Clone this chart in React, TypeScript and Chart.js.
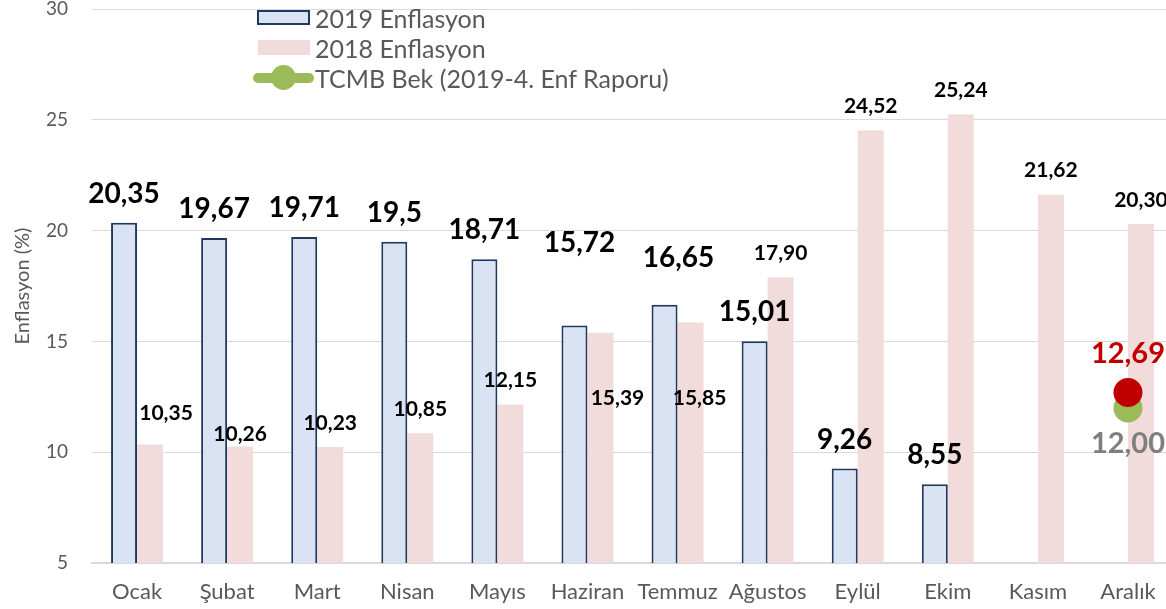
import React, { useEffect, useRef } from "react";
import { Chart, registerables } from "chart.js";

Chart.register(...registerables);

const months = ["Ocak", "Şubat", "Mart", "Nisan", "Mayıs", "Haziran", "Temmuz", "Ağustos", "Eylül", "Ekim", "Kasım", "Aralık"];
const infl2019: (number | null)[] = [20.35, 19.67, 19.71, 19.5, 18.71, 15.72, 16.65, 15.01, 9.26, 8.55, null, null];
const infl2018: (number | null)[] = [10.35, 10.26, 10.23, 10.85, 12.15, 15.39, 15.85, 17.9, 24.52, 25.24, 21.62, 20.3];
const tcmbForecast: (number | null)[] = [null, null, null, null, null, null, null, null, null, null, null, 12.0];
const decEstimate: (number | null)[] = [null, null, null, null, null, null, null, null, null, null, null, 12.69];
const yMin = 5;
const yMax = 30;
const yStep = 5;

const COL_2019_FILL = "#dae3f3";
const COL_2019_BORDER = "#22395e";
const COL_2018_FILL = "#f2dcdb";
const COL_GREEN = "#9bbb59";
const COL_RED = "#c00000";
const COL_TEXT = "#595959";
const FONT = "Lato";

const fmtPlain = (v: number) => String(v).replace(".", ",");
const fmtFixed = (v: number) => v.toFixed(2).replace(".", ",");

// value-label styles per dataset index (size, colour, default offset to text centre, format, per-index shifts)
const labelStyles: Record<number, { size: number; color: string; dy: number; fmt: (v: number) => string; shift: Record<number, [number, number]> }> = {
  0: { size: 29, color: COL_RED, dy: -40, fmt: fmtFixed, shift: {} },
  1: { size: 29, color: "#7f7f7f", dy: 35, fmt: fmtFixed, shift: {} },
  2: { size: 28, color: "#000000", dy: -30, fmt: fmtPlain, shift: { 5: [5, -84], 6: [14, -48] } },
  3: { size: 21, color: "#000000", dy: -25, fmt: fmtFixed, shift: { 0: [16, -32], 1: [0, -13], 5: [17, 65], 6: [9, 75] } },
};

const valueLabels = {
  id: "valueLabels",
  afterDatasetsDraw(chart: any) {
    const ctx = chart.ctx;
    chart.data.datasets.forEach((ds: any, di: number) => {
      const st = labelStyles[di];
      if (!st) return;
      const meta = chart.getDatasetMeta(di);
      meta.data.forEach((el: any, i: number) => {
        const v = ds.data[i];
        if (v == null) return;
        const sh = st.shift[i] ?? [0, st.dy];
        ctx.save();
        ctx.font = `bold ${st.size}px ${FONT}`;
        ctx.fillStyle = st.color;
        ctx.textAlign = "center";
        ctx.textBaseline = "alphabetic";
        ctx.fillText(st.fmt(v), el.x + sh[0], el.y + sh[1] + st.size * 0.36);
        ctx.restore();
      });
    });
  },
};

export default function App() {
  const ref = useRef<HTMLCanvasElement | null>(null);

  useEffect(() => {
    if (!ref.current) return;
    const chart = new Chart(ref.current, {
      type: "bar",
      data: {
        labels: months,
        datasets: [
          {
            type: "line",
            label: "Aralık Tahmini",
            data: decEstimate,
            showLine: false,
            pointRadius: 14.5,
            pointBackgroundColor: COL_RED,
            pointBorderWidth: 0,
            borderColor: COL_RED,
            order: 0,
          } as any,
          {
            type: "line",
            label: "TCMB Bek (2019-4. Enf Raporu)",
            data: tcmbForecast,
            showLine: false,
            pointRadius: 14.5,
            pointBackgroundColor: COL_GREEN,
            pointBorderWidth: 0,
            borderColor: COL_GREEN,
            order: 1,
          } as any,
          {
            label: "2019 Enflasyon",
            data: infl2019,
            backgroundColor: COL_2019_FILL,
            borderColor: COL_2019_BORDER,
            borderWidth: 2,
            categoryPercentage: 0.577,
            barPercentage: 1,
            order: 2,
          },
          {
            label: "2018 Enflasyon",
            data: infl2018,
            backgroundColor: COL_2018_FILL,
            borderWidth: 0,
            categoryPercentage: 0.577,
            barPercentage: 1,
            order: 3,
          },
        ],
      },
      options: {
        animation: false,
        responsive: false,
        maintainAspectRatio: false,
        layout: { autoPadding: false, padding: { top: 9, right: 7, left: 0, bottom: 0 } },
        plugins: {
          legend: { display: false },
          tooltip: { enabled: false },
        },
        scales: {
          x: {
            grid: { display: false, drawTicks: false },
            border: { display: true, color: "#d9d9d9", width: 2 },
            ticks: { color: COL_TEXT, font: { family: FONT, size: 22 }, padding: 16, maxRotation: 0, autoSkip: false },
            afterFit(scale: any) {
              scale.height = 46;
              scale.paddingLeft = 0;
              scale.paddingRight = 0;
            },
          },
          y: {
            min: yMin,
            max: yMax,
            ticks: { stepSize: yStep, color: COL_TEXT, font: { family: FONT, size: 19 }, padding: 24 },
            grid: { color: "#d9d9d9", drawTicks: false, lineWidth: 1 },
            border: { display: false },
            title: {
              display: true,
              text: "Enflasyon (%)",
              color: COL_TEXT,
              font: { family: FONT, size: 20 },
              padding: { top: 11, bottom: 0 },
            },
            afterFit(scale: any) {
              scale.width = 92;
              scale.paddingTop = 0;
              scale.paddingBottom = 0;
            },
          },
        },
      },
      plugins: [valueLabels],
    } as any);
    return () => chart.destroy();
  }, []);

  const rowStyle = (center: number): React.CSSProperties => ({
    position: "absolute",
    left: 253,
    top: center - 15,
    height: 30,
    display: "flex",
    alignItems: "center",
    whiteSpace: "nowrap",
  });
  const textStyle: React.CSSProperties = { fontFamily: FONT, fontSize: 25, color: COL_TEXT, marginLeft: 0, lineHeight: "30px" };

  return (
    <div style={{ position: "fixed", left: 0, top: 0, width: "100vw", height: "100vh", overflow: "hidden", background: "#fff" }}>
      <canvas ref={ref} width={1180} height={609} style={{ position: "absolute", left: 0, top: 0, display: "block" }} />
      <div style={rowStyle(17.5)}>
        <div style={{ width: 62, display: "flex", alignItems: "center" }}>
          <div style={{ marginLeft: 4, width: 53, height: 15, boxSizing: "border-box", border: `2px solid ${COL_2019_BORDER}`, background: COL_2019_FILL }} />
        </div>
        <span style={textStyle}>2019 Enflasyon</span>
      </div>
      <div style={rowStyle(47.5)}>
        <div style={{ width: 62, display: "flex", alignItems: "center" }}>
          <div style={{ marginLeft: 5, width: 52, height: 15, background: COL_2018_FILL }} />
        </div>
        <span style={textStyle}>2018 Enflasyon</span>
      </div>
      <div style={rowStyle(77.7)}>
        <div style={{ width: 62, height: 30, position: "relative" }}>
          <div style={{ position: "absolute", left: 0, top: 10, width: 61, height: 10, borderRadius: 5, background: COL_GREEN }} />
          <div style={{ position: "absolute", left: 18, top: 2.5, width: 25, height: 25, borderRadius: "50%", background: COL_GREEN }} />
        </div>
        <span style={textStyle}>TCMB Bek (2019-4. Enf Raporu)</span>
      </div>
    </div>
  );
}
